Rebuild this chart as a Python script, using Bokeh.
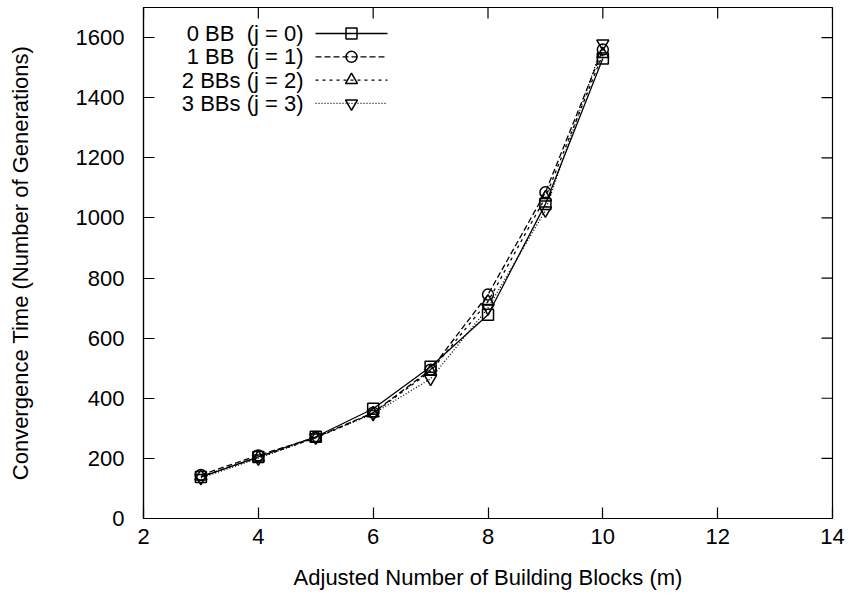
from bokeh.plotting import figure
from bokeh.models import LinearAxis, FixedTicker, Range1d, Label
from bokeh.embed import file_html
from bokeh.resources import INLINE

# ---- data ----
m_values = [3, 4, 5, 6, 7, 8, 9, 10]
bb0 = [138, 205, 272, 365, 505, 678, 1046, 1530]
bb1 = [145, 210, 270, 352, 495, 745, 1085, 1560]
bb2 = [140, 203, 268, 350, 490, 722, 1068, 1545]
bb3 = [135, 200, 270, 348, 465, 700, 1025, 1580]
series_names = ["0 BB\u00a0 (j = 0)", "1 BB\u00a0 (j = 1)", "2 BBs (j = 2)", "3 BBs (j = 3)"]
x_ticks = [2, 4, 6, 8, 10, 12, 14]
y_ticks = [0, 200, 400, 600, 800, 1000, 1200, 1400, 1600]

FONT = "Liberation Sans"
FS = "22px"
X0, X1, Y0, Y1 = 2, 14, 0, 1700
LEFT, RIGHT, TOP, BOTTOM = 143, 25, 7, 80
W, H = 857, 598
FW = W - LEFT - RIGHT
FH = H - TOP - BOTTOM
TICK = 11

p = figure(width=W, height=H, output_backend="svg", toolbar_location=None,
           x_range=Range1d(X0, X1), y_range=Range1d(Y0, Y1),
           x_axis_location=None, y_axis_location=None,
           min_border_left=LEFT, min_border_right=RIGHT,
           min_border_top=TOP, min_border_bottom=BOTTOM)
p.grid.visible = False
p.outline_line_color = "black"
p.outline_line_width = 1.2
p.background_fill_color = "white"
p.border_fill_color = "white"


def style_axis(ax, ticks):
    ax.ticker = FixedTicker(ticks=ticks)
    ax.major_tick_in = TICK
    ax.major_tick_out = 0
    ax.minor_tick_line_color = None
    ax.major_tick_line_color = "black"
    ax.major_tick_line_width = 1.2
    ax.axis_line_color = "black"
    ax.axis_line_width = 1.2
    ax.major_label_text_font = FONT
    ax.major_label_text_font_size = FS
    ax.major_label_text_color = "black"
    ax.axis_label_text_font = FONT
    ax.axis_label_text_font_size = FS
    ax.axis_label_text_font_style = "normal"
    ax.axis_label_text_color = "black"


xb = LinearAxis(axis_label="Adjusted Number of Building Blocks (m)")
style_axis(xb, x_ticks)
xb.major_label_standoff = 10
xb.axis_label_standoff = 18
p.add_layout(xb, "below")

yl = LinearAxis(axis_label="Convergence Time (Number of Generations)")
style_axis(yl, y_ticks)
yl.major_label_standoff = 19
yl.axis_label_standoff = 40
p.add_layout(yl, "left")

# mirrored inward ticks on top and right edges (from the tick lists)
dy_tick = TICK * (Y1 - Y0) / FH
dx_tick = TICK * (X1 - X0) / FW
p.segment(x0=x_ticks, y0=[Y1] * len(x_ticks), x1=x_ticks, y1=[Y1 - dy_tick] * len(x_ticks),
          line_color="black", line_width=1.2)
p.segment(x0=[X1] * len(y_ticks), y0=y_ticks, x1=[X1 - dx_tick] * len(y_ticks), y1=y_ticks,
          line_color="black", line_width=1.2)

dashes = ["solid", "6 3", "3 4", "1 2"]
markers = ["square", "circle", "triangle", "inverted_triangle"]
sizes = [11, 11, 12, 12]
all_series = [bb0, bb1, bb2, bb3]

for vals, dash, mk, sz in zip(all_series, dashes, markers, sizes):
    p.line(m_values, vals, line_color="black", line_width=1.3, line_dash=dash)
    p.scatter(m_values, vals, marker=mk, size=sz, line_color="black",
              line_width=1.5, fill_alpha=0)


# ---- key (gnuplot style: right-justified text, then sample) ----
def sx(px):  # screen x (page) -> data x
    return X0 + (px - LEFT) * (X1 - X0) / FW


def sy(py):  # screen y (page) -> data y
    return Y0 + (TOP + FH - py) * (Y1 - Y0) / FH


row0, row_step = 33, 23.3
text_right, s_start, s_end = 303, 315, 387
for i, (name, dash, mk, sz) in enumerate(zip(series_names, dashes, markers, sizes)):
    ry = row0 + row_step * i
    p.add_layout(Label(x=text_right - LEFT, y=TOP + FH - ry, x_units="screen", y_units="screen",
                       text=name, text_align="right", text_baseline="middle",
                       text_font=FONT, text_font_size=FS, text_color="black"))
    p.line([sx(s_start), sx(s_end)], [sy(ry), sy(ry)], line_color="black",
           line_width=1.3, line_dash=dash)
    p.scatter([sx((s_start + s_end) / 2)], [sy(ry)], marker=mk, size=sz,
              line_color="black", line_width=1.5, fill_alpha=0)

open("out.html", "w").write(file_html(p, INLINE))
